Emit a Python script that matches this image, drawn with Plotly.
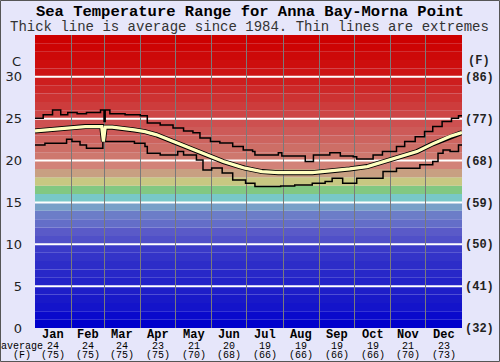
import plotly.graph_objects as go

# ---------------- data ----------------
months = ["Jan", "Feb", "Mar", "Apr", "May", "Jun", "Jul", "Aug", "Sep", "Oct", "Nov", "Dec"]
month_start = [0, 31, 59, 90, 120, 151, 181, 212, 243, 273, 304, 334]
month_mid = [15.5, 45, 74.5, 105, 135.5, 166, 196.5, 227.5, 258, 288.5, 319, 349.5]
month_avg_c = [24, 24, 24, 23, 21, 20, 19, 19, 19, 19, 21, 23]
month_avg_f = [75, 75, 75, 75, 70, 68, 66, 66, 66, 66, 70, 73]

max_day = [0, 7, 15, 22, 28, 36, 44, 56, 59, 60, 64, 77, 90, 96, 107, 118, 127, 135, 141,
           150, 158, 169, 178, 186, 188, 208, 211, 231, 238, 252, 261, 272, 275, 289, 297,
           309, 316, 325, 333, 340, 348, 356, 362, 365]
max_c = [25.06, 25.46, 26.05, 25.46, 25.73, 25.58, 25.73, 26.05, 24.66, 26.05, 25.58, 25.46,
         25.34, 24.50, 24.26, 23.90, 23.54, 23.31, 22.71, 22.27, 22.11, 21.67, 21.27, 21.07,
         20.68, 20.92, 20.56, 19.88, 20.68, 20.92, 20.56, 20.47, 20.20, 20.68, 21.07, 21.67,
         22.27, 22.86, 23.46, 24.06, 24.66, 25.06, 25.34, 25.34]

avg_day = [0, 14, 28, 43, 57, 58.5, 60, 66, 85, 94, 104, 118, 132, 147, 161, 175, 179.5,
           194, 208, 237, 265, 269, 284, 297.5, 312, 326.5, 340, 355, 365]
avg_c = [23.54, 23.70, 23.87, 24.06, 24.06, 22.27, 24.00, 23.99, 23.66, 23.46, 23.07, 22.27,
         21.48, 20.68, 19.88, 19.28, 19.09, 18.68, 18.56, 18.56, 18.88, 19.00, 19.28, 19.88,
         20.47, 21.07, 22.00, 22.90, 23.35]

min_day = [0, 8.5, 27, 31.6, 38.5, 44, 58, 60, 85, 94, 96, 107, 122, 127, 138, 143.6, 151,
           160, 169, 180, 188, 210, 222, 237, 248, 254, 263, 275, 297.5, 309, 329, 340,
           344.5, 348.8, 354.8, 362, 365]
min_c = [21.87, 22.07, 22.55, 22.27, 21.87, 21.48, 22.47, 22.27, 22.07, 21.67, 20.88, 20.68,
         21.07, 20.68, 20.08, 18.88, 19.12, 18.53, 17.69, 17.29, 16.89, 16.95, 17.09, 17.29,
         17.49, 17.89, 17.29, 17.89, 18.68, 19.09, 19.50, 19.88, 20.88, 21.27, 21.07, 21.87,
         21.87]

c_ticks = [0, 5, 10, 15, 20, 25, 30]
f_ticks = [32, 41, 50, 59, 68, 77, 86]

# one colour per 1 degree C band, from 0 C upward
band_colors = [
    (0, 0, 204), (10, 10, 204), (20, 20, 202), (25, 25, 200), (30, 30, 200),
    (35, 35, 200), (40, 40, 200), (45, 45, 200), (52, 52, 200), (58, 58, 200),
    (80, 80, 200), (90, 90, 200), (100, 110, 200), (108, 125, 200), (120, 160, 200),
    (120, 200, 200), (130, 200, 130), (200, 200, 130), (200, 160, 130), (210, 130, 120),
    (206, 120, 110), (205, 110, 102), (205, 100, 95), (205, 90, 88), (205, 80, 80),
    (205, 70, 70), (205, 60, 60), (205, 50, 50), (205, 40, 40), (205, 30, 30),
    (205, 20, 20), (205, 14, 14), (205, 9, 9), (205, 4, 4), (205, 0, 0),
]

# ---------------- figure ----------------
fig = go.Figure()

fig.add_trace(go.Scatter(x=max_day, y=max_c, mode="lines", line=dict(color="black", width=1.5, shape="hv"),
                         hoverinfo="skip", showlegend=False))
fig.add_trace(go.Scatter(x=min_day, y=min_c, mode="lines", line=dict(color="black", width=1.5, shape="hv"),
                         hoverinfo="skip", showlegend=False))
fig.add_trace(go.Scatter(x=avg_day, y=avg_c, mode="lines", line=dict(color="black", width=5),
                         hoverinfo="skip", showlegend=False))
fig.add_trace(go.Scatter(x=avg_day, y=avg_c, mode="lines", line=dict(color="#FFFFC0", width=3.2),
                         hoverinfo="skip", showlegend=False))
# invisible trace to carry the Fahrenheit axis
fig.add_trace(go.Scatter(x=month_mid, y=month_avg_f, yaxis="y2", mode="markers",
                         marker=dict(opacity=0), hoverinfo="skip", showlegend=False))

shapes = []
for i, (r, g, b) in enumerate(band_colors):
    shapes.append(dict(type="rect", xref="x", yref="y", x0=0, x1=365, y0=i, y1=i + 1,
                       fillcolor=f"rgb({r},{g},{b})", line=dict(width=0), layer="below"))
for t in c_ticks[1:]:
    shapes.append(dict(type="line", xref="x", yref="y", x0=0, x1=365, y0=t, y1=t,
                       line=dict(color="white", width=2), layer="below"))
# outer border of the image
shapes.append(dict(type="rect", xref="paper", yref="paper",
                   x0=(0.5 - 35) / 427, x1=(499.5 - 35) / 427,
                   y0=(328 - 361.5) / 293, y1=(328 - 0.5) / 293,
                   line=dict(color="#555555", width=1), fillcolor="rgba(0,0,0,0)", layer="above"))

mono = "Liberation Mono, Courier New, monospace"
annotations = [
    dict(text="<b>Sea Temperature Range for Anna Bay-Morna Point</b>", xref="paper", yref="paper",
         x=(250 - 35) / 427, y=(328 - 12) / 293, xanchor="center", yanchor="middle", showarrow=False,
         font=dict(family=mono, size=15.5, color="black")),
    dict(text="Thick line is average since 1984. Thin lines are extremes", xref="paper", yref="paper",
         x=(249 - 35) / 427, y=(328 - 27) / 293, xanchor="center", yanchor="middle", showarrow=False,
         font=dict(family=mono, size=14, color="#333333")),
    dict(text="C", xref="paper", yref="paper", x=(16 - 35) / 427, y=(328 - 61) / 293,
         xanchor="center", yanchor="middle", showarrow=False,
         font=dict(family="DejaVu Sans", size=13, color="#222222")),
    dict(text="<b>(F)</b>", xref="paper", yref="paper", x=(479 - 35) / 427, y=(328 - 61) / 293,
         xanchor="center", yanchor="middle", showarrow=False,
         font=dict(family=mono, size=12, color="#222222")),
    dict(text="average", xref="paper", yref="paper", x=(22 - 35) / 427, y=(328 - 346) / 293,
         xanchor="center", yanchor="middle", showarrow=False,
         font=dict(family=mono, size=10, color="black")),
    dict(text="(F)", xref="paper", yref="paper", x=(22 - 35) / 427, y=(328 - 355) / 293,
         xanchor="center", yanchor="middle", showarrow=False,
         font=dict(family=mono, size=10, color="black")),
]
for m, xm, ac, af in zip(months, month_mid, month_avg_c, month_avg_f):
    annotations.append(dict(text=f"<b>{m}</b>", xref="x", yref="paper", x=xm, y=(328 - 334.5) / 293,
                            xanchor="center", yanchor="middle", showarrow=False,
                            font=dict(family=mono, size=12, color="black")))
    annotations.append(dict(text=f"{ac}", xref="x", yref="paper", x=xm, y=(328 - 346) / 293,
                            xanchor="center", yanchor="middle", showarrow=False,
                            font=dict(family=mono, size=10, color="black")))
    annotations.append(dict(text=f"({af})", xref="x", yref="paper", x=xm, y=(328 - 355) / 293,
                            xanchor="center", yanchor="middle", showarrow=False,
                            font=dict(family=mono, size=10, color="black")))

fig.update_layout(
    width=500, height=362,
    margin=dict(l=35, r=38, t=35, b=34, autoexpand=False),
    paper_bgcolor="#E6E6FA",
    plot_bgcolor="#E6E6FA",
    shapes=shapes,
    annotations=annotations,
    hovermode=False,
    xaxis=dict(range=[0, 365], tickvals=month_start, showticklabels=False, ticks="",
               showgrid=True, gridcolor="#7a7a7a", gridwidth=1, zeroline=False, showline=False,
               automargin=False, fixedrange=True),
    yaxis=dict(range=[0, 35], tickvals=c_ticks, ticktext=[str(t) for t in c_ticks], showgrid=False,
               zeroline=False, showline=False, ticks="", ticklabelstandoff=12, automargin=False,
               fixedrange=True, tickfont=dict(family="DejaVu Sans", size=13, color="#222222")),
    yaxis2=dict(range=[32, 95], overlaying="y", side="right", tickvals=f_ticks,
                ticktext=[f"<b>({t})</b>" for t in f_ticks], showgrid=False, zeroline=False,
                showline=False, ticks="", ticklabelstandoff=2, automargin=False, fixedrange=True,
                tickfont=dict(family=mono, size=12, color="#222222")),
)

fig.write_html("out.html", config={"displayModeBar": False, "staticPlot": True},
               post_script="document.body.style.margin='0';document.body.style.overflow='hidden';")
